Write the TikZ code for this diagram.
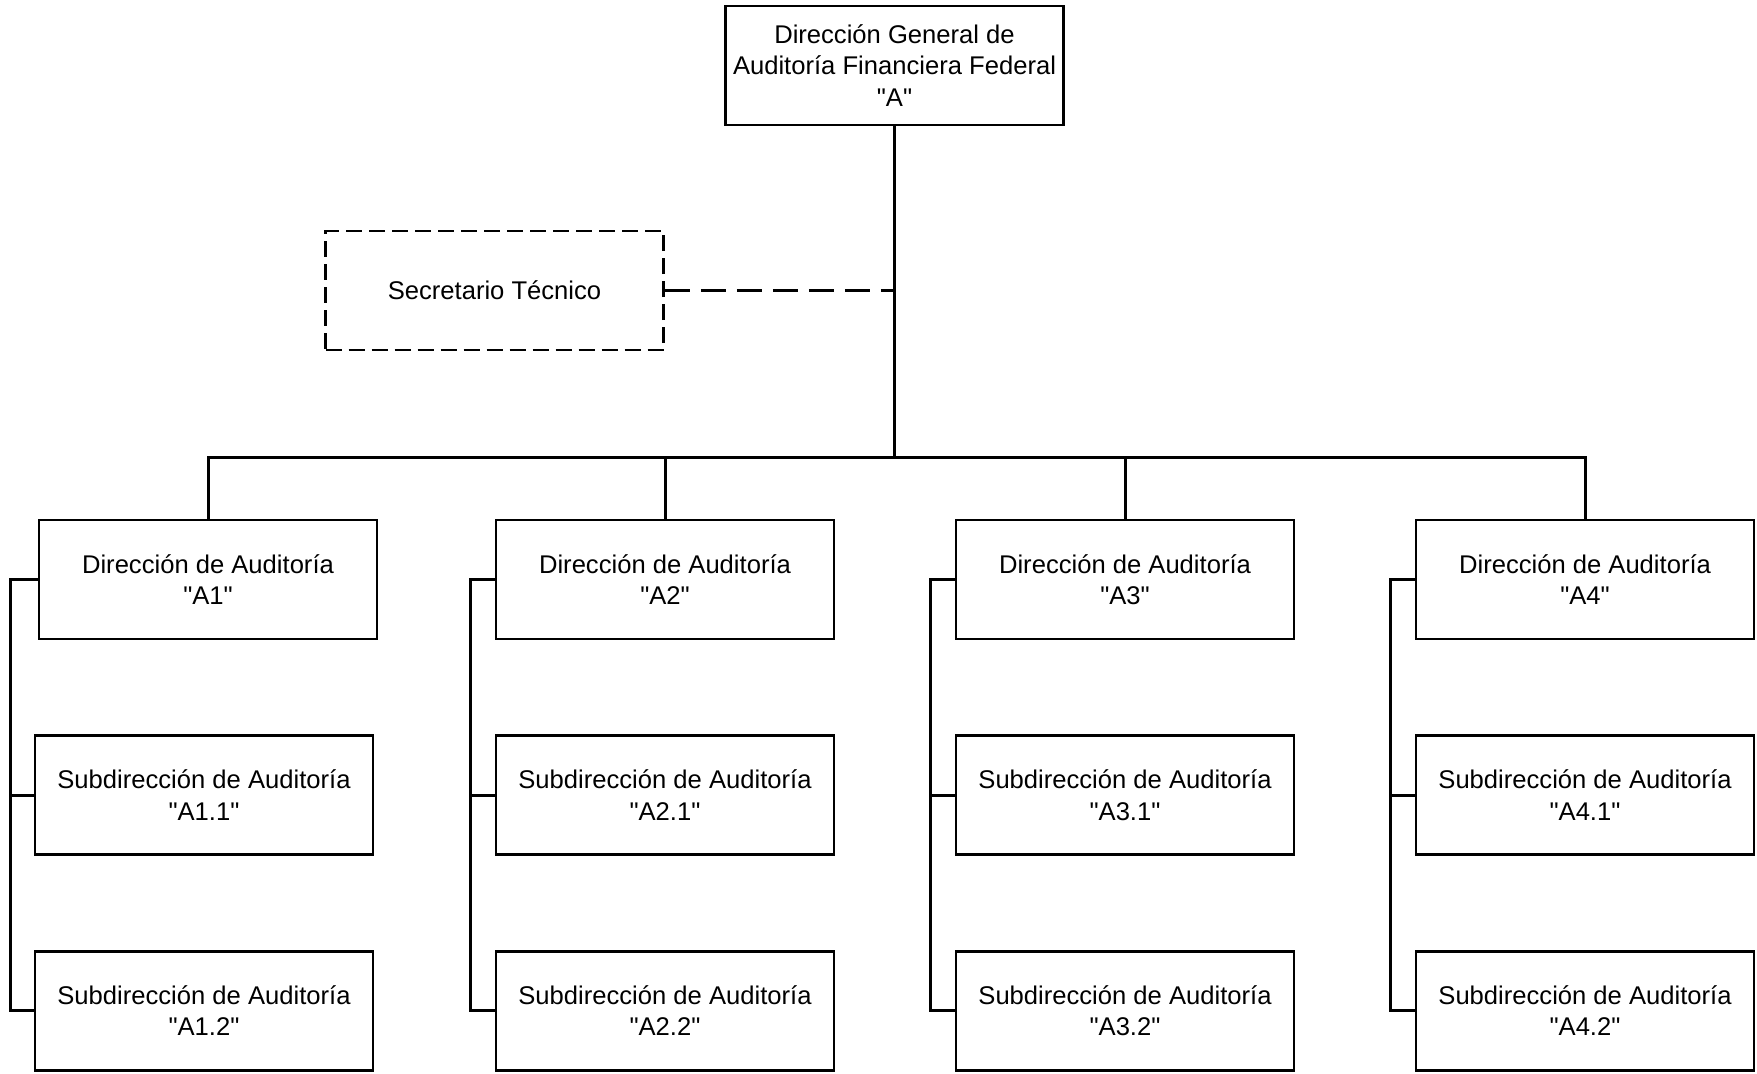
\documentclass[tikz,border=0pt]{standalone}
\usepackage{fontspec}
\setmainfont{Liberation Sans}[Ligatures=TeXOff]
\usetikzlibrary{positioning}

\begin{document}
\begin{tikzpicture}[
        x=0.5pt, y=-0.5pt,
        unit/.style={rectangle, draw, line width=1.3pt, minimum width=169pt, minimum height=59.5pt,
                     align=center, inner sep=1pt, font=\fontsize{12.8}{15.7}\selectfont},
        staff/.style={unit, dash pattern=on 8pt off 3.5pt},
        link/.style={line width=1.5pt},
        staffline/.style={line width=1.5pt, dash pattern=on 12.5pt off 5.5pt},
        node distance=47pt and 0pt
    ]
    \useasboundingbox (0,0) rectangle (1757,1073);

    \node[unit]  (dg)  at (894.5,65.5)  {Dirección General de\\Auditoría Financiera Federal\\"A"};
    \node[staff] (st)  at (494.5,290.5) {Secretario Técnico};

    \node[unit]  (a1)  at (208,579.5)   {Dirección de Auditoría\\"A1"};
    \node[unit]  (a2)  at (665,579.5)   {Dirección de Auditoría\\"A2"};
    \node[unit]  (a3)  at (1125,579.5)  {Dirección de Auditoría\\"A3"};
    \node[unit]  (a4)  at (1585,579.5)  {Dirección de Auditoría\\"A4"};

    \node[unit]  (a11) [below=of a1, xshift=-2pt] {Subdirección de Auditoría\\"A1.1"};
    \node[unit]  (a12) [below=of a11]             {Subdirección de Auditoría\\"A1.2"};
    \node[unit]  (a21) [below=of a2]              {Subdirección de Auditoría\\"A2.1"};
    \node[unit]  (a22) [below=of a21]             {Subdirección de Auditoría\\"A2.2"};
    \node[unit]  (a31) [below=of a3]              {Subdirección de Auditoría\\"A3.1"};
    \node[unit]  (a32) [below=of a31]             {Subdirección de Auditoría\\"A3.2"};
    \node[unit]  (a41) [below=of a4]              {Subdirección de Auditoría\\"A4.1"};
    \node[unit]  (a42) [below=of a41]             {Subdirección de Auditoría\\"A4.2"};

    % bus under the general direction
    \coordinate (bus) at (894.5,457);
    \draw[link] (dg) -- (bus);
    \draw[link] (a1.north) |- (bus) -| (a4.north);
    \draw[link] (a2.north) -- (a2.north |- bus);
    \draw[link] (a3.north) -- (a3.north |- bus);

    \draw[staffline] (st.east) -- (st.east -| dg);

    % side rails to the subdirections
    \coordinate[left=13.5pt of a1.west] (r1);
    \coordinate[left=12pt of a2.west]   (r2);
    \coordinate[left=12pt of a3.west]   (r3);
    \coordinate[left=12pt of a4.west]   (r4);

    \draw[link] (a1.west) -- (r1) |- (a12.west);
    \draw[link] (r1 |- a11.west) -- (a11.west);
    \draw[link] (a2.west) -- (r2) |- (a22.west);
    \draw[link] (r2 |- a21.west) -- (a21.west);
    \draw[link] (a3.west) -- (r3) |- (a32.west);
    \draw[link] (r3 |- a31.west) -- (a31.west);
    \draw[link] (a4.west) -- (r4) |- (a42.west);
    \draw[link] (r4 |- a41.west) -- (a41.west);
\end{tikzpicture}
\end{document}
